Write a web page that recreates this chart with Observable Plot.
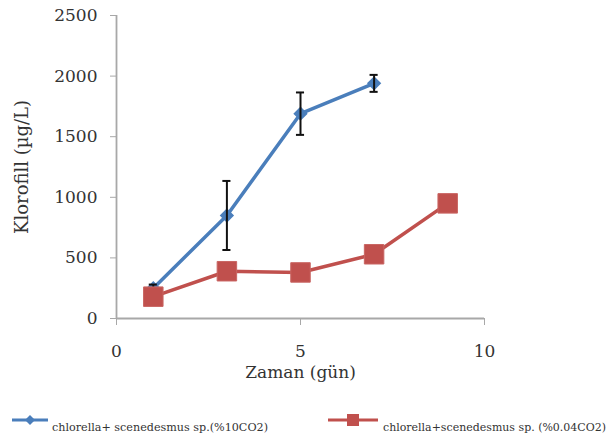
<!DOCTYPE html>
<html>
<head>
<meta charset="utf-8">
<script src="https://cdn.jsdelivr.net/npm/d3@7"></script>
<script src="https://cdn.jsdelivr.net/npm/@observablehq/plot@0.6"></script>
<style>
  html, body { margin: 0; padding: 0; background: #fff; }
  #wrap { position: relative; width: 610px; height: 442px; overflow: hidden; }
  #legend { position: absolute; left: 0; top: 400px; }
</style>
</head>
<body>
<div id="wrap"></div>
<script>
// ---- data ----
const days = [1, 3, 5, 7, 9];
const series1Name = "chlorella+ scenedesmus sp.(%10CO2)";
const series2Name = "chlorella+scenedesmus sp. (%0.04CO2)";
const series1Days = [1, 3, 5, 7];
const series1Values = [250, 850, 1690, 1940];
const series1Err = [30, 285, 175, 70];
const series2Values = [180, 390, 380, 530, 950];
const xTicks = [0, 5, 10];
const yTicks = [0, 500, 1000, 1500, 2000, 2500];
const xLabel = "Zaman (gün)";
const yLabel = "Klorofill (µg/L)";

const blue = "#4a7ebb";
const red = "#c0504d";

const s1 = series1Days.map((d, i) => ({x: d, y: series1Values[i], e: series1Err[i]}));
const s2 = days.map((d, i) => ({x: d, y: series2Values[i]}));

const font = "DejaVu Serif, serif";

const chart = Plot.plot({
  width: 610,
  height: 400,
  marginLeft: 116,
  marginRight: 126,
  marginTop: 15,
  marginBottom: 82,
  style: {fontFamily: font, fontSize: "17px", color: "#333", background: "#fff"},
  x: {domain: [0, 10]},
  y: {domain: [0, 2500]},
  marks: [
    Plot.axisX({ticks: xTicks, tickFormat: d => String(d), tickSize: 7, tickPadding: 19, stroke: "#a8a8a8", label: null, fontSize: 17, fill: "#333"}),
    Plot.axisY({ticks: yTicks, tickFormat: d => String(d), tickSize: 6, tickPadding: 13, stroke: "#a8a8a8", label: null, fontSize: 17, fill: "#333"}),
    Plot.ruleX([0], {stroke: "#a8a8a8", strokeWidth: 1.8}),
    Plot.ruleY([0], {stroke: "#a8a8a8", strokeWidth: 1.8}),
    Plot.text([xLabel], {frameAnchor: "bottom", lineAnchor: "middle", dy: 54, fontSize: 17, fill: "#333"}),
    Plot.text([yLabel], {frameAnchor: "left", textAnchor: "middle", lineAnchor: "middle", dx: -94, rotate: -90, fontSize: 18, fill: "#333"}),
    Plot.line(s1, {x: "x", y: "y", stroke: blue, strokeWidth: 3.5}),
    Plot.dot(s1, {x: "x", y: "y", symbol: "diamond2", r: 5.5, fill: blue, stroke: blue}),
    Plot.ruleX(s1, {x: "x", y1: d => d.y - d.e, y2: d => d.y + d.e, stroke: "#111", strokeWidth: 2}),
    Plot.ruleY(s1, {y: d => d.y - d.e, x1: d => d.x - 0.11, x2: d => d.x + 0.11, stroke: "#111", strokeWidth: 2}),
    Plot.ruleY(s1, {y: d => d.y + d.e, x1: d => d.x - 0.11, x2: d => d.x + 0.11, stroke: "#111", strokeWidth: 2}),
    Plot.line(s2, {x: "x", y: "y", stroke: red, strokeWidth: 3.5}),
    Plot.dot(s2, {x: "x", y: "y", symbol: "square", r: 11, fill: red, stroke: "#c96562", strokeWidth: 1})
  ]
});
const wrap = document.getElementById("wrap");
wrap.appendChild(chart);

// legend (below the chart)
const ns = "http://www.w3.org/2000/svg";
const leg = document.createElementNS(ns, "svg");
leg.setAttribute("id", "legend");
leg.setAttribute("width", 610);
leg.setAttribute("height", 42);
function el(tag, attrs) {
  const e = document.createElementNS(ns, tag);
  for (const k in attrs) e.setAttribute(k, attrs[k]);
  leg.appendChild(e);
  return e;
}
function legendItem(x0, x1, tx, tw, name, color, kind) {
  const yy = 20;
  el("line", {x1: x0, x2: x1, y1: yy, y2: yy, stroke: color, "stroke-width": 3});
  const c = (x0 + x1) / 2;
  if (kind === "diamond") el("path", {d: `M${c},${yy-5}L${c+5},${yy}L${c},${yy+5}L${c-5},${yy}Z`, fill: color});
  else el("rect", {x: c - 6, y: yy - 6, width: 12, height: 12, fill: color});
  const t = el("text", {x: tx, y: yy + 11, "font-family": font, "font-size": 11, fill: "#333", textLength: tw, lengthAdjust: "spacingAndGlyphs"});
  t.textContent = name;
}
legendItem(12, 48, 52, 216, series1Name, blue, "diamond");
legendItem(328, 378, 383, 223, series2Name, red, "square");
wrap.appendChild(leg);
</script>
</body>
</html>
